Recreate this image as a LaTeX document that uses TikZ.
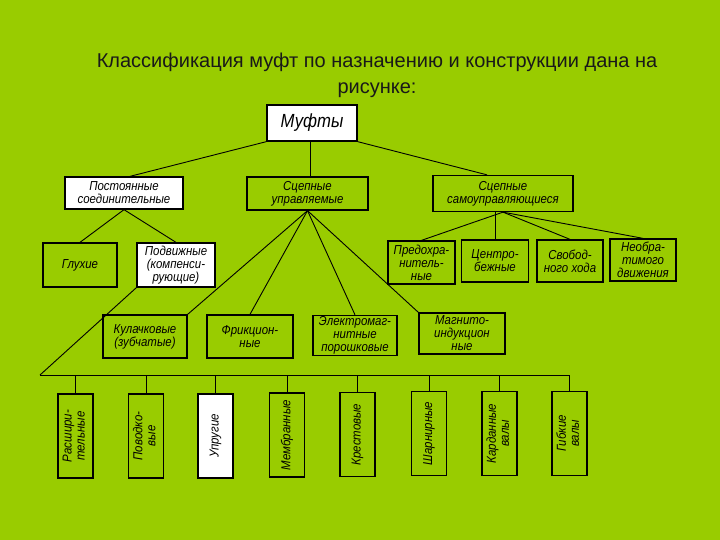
\documentclass[tikz,border=0pt]{standalone}
\usepackage{fontspec}
\setmainfont{Liberation Sans}
\newfontfamily\boxfont[FakeStretch=0.88]{Liberation Sans}
\usetikzlibrary{calc}
\definecolor{bg}{RGB}{153,204,0}
\begin{document}
\begin{tikzpicture}[x=1pt,y=-1pt,
  box/.style={draw=black, line width=1.3pt, inner sep=1pt, align=center,
    font=\boxfont\itshape\fontsize{13}{13}\selectfont},
  wbox/.style={box, fill=white},
  vbox/.style={box, minimum width=35pt, minimum height=84pt},
  conn/.style={draw=black, line width=0.9pt},
  titlestyle/.style={align=center, font=\fontsize{20}{26}\selectfont, text=black!90}]
\fill[bg] (0,0) rectangle (720,540);
\useasboundingbox (0,0) rectangle (720,540);

\node[titlestyle] (title) at (377,75) {Классификация муфт по назначению и конструкции дана на\\рисунке:};

% level 1
\node[wbox, minimum width=90pt, minimum height=36pt, font=\boxfont\itshape\fontsize{19}{20}\selectfont] (muf) at (312,123) {Муфты};
% level 2
\node[wbox, minimum width=118pt, minimum height=32pt] (post) at (124,193) {Постоянные\\соединительные};
\node[box, minimum width=121pt, minimum height=33pt] (supr) at (307.5,193.5) {Сцепные\\управляемые};
\node[box, minimum width=140pt, minimum height=36pt] (ssam) at (503,193.5) {Сцепные\\самоуправляющиеся};
% level 3
\node[box, minimum width=74pt, minimum height=44pt] (gluh) at (80,265) {Глухие};
\node[wbox, minimum width=78pt, minimum height=44pt] (podv) at (176,265) {Подвижные\\(компенси-\\рующие)};
\node[box, minimum width=67pt, minimum height=43pt] (pred) at (421.5,262.5) {Предохра-\\нитель-\\ные};
\node[box, minimum width=67pt, minimum height=42pt] (centr) at (495,261) {Центро-\\бежные};
\node[box, minimum width=66pt, minimum height=42pt] (svob) at (570,261) {Свобод-\\ного хода};
\node[box, minimum width=66pt, minimum height=42pt] (neob) at (643,260) {Необра-\\тимого\\движения};
% level 4
\node[box, minimum width=84pt, minimum height=43pt] (kul) at (145,336.5) {Кулачковые\\(зубчатые)};
\node[box, minimum width=86pt, minimum height=43pt] (fric) at (250,336.5) {Фрикцион-\\ные};
\node[box, minimum width=84pt, minimum height=40pt] (elek) at (355,335.5) {Электромаг-\\нитные\\порошковые};
\node[box, minimum width=86pt, minimum height=41pt] (magn) at (462,333.5) {Магнито-\\индукцион\\ные};
% bottom row
\node[vbox] (b1) at (75.5,436) {\rotatebox{90}{\begin{tabular}{@{}c@{}}Расшири-\\тельные\end{tabular}}};
\node[vbox] (b2) at (146,436) {\rotatebox{90}{\begin{tabular}{@{}c@{}}Поводко-\\вые\end{tabular}}};
\node[vbox, fill=white] (b3) at (215.5,436) {\rotatebox{90}{Упругие}};
\node[vbox] (b4) at (287,435) {\rotatebox{90}{Мембранные}};
\node[vbox] (b5) at (357.5,434.5) {\rotatebox{90}{Крестовые}};
\node[vbox] (b6) at (429,433.5) {\rotatebox{90}{Шарнирные}};
\node[vbox] (b7) at (499.5,433.5) {\rotatebox{90}{\begin{tabular}{@{}c@{}}Карданные\\валы\end{tabular}}};
\node[vbox] (b8) at (569.5,433.5) {\rotatebox{90}{\begin{tabular}{@{}c@{}}Гибкие\\валы\end{tabular}}};

% connectors
\draw[conn] (muf.south west) -- ($(post.north)+(6,0)$);
\draw[conn] (muf.south -| supr.north) ++(2.5,0) coordinate (mv) -- (mv |- supr.north);
\draw[conn] (muf.south east) -- ($(ssam.north)+(-16,0)$);

\draw[conn] (post.south) -- (gluh.north);
\draw[conn] (post.south) -- (podv.north);

\draw[conn] (supr.south) -- (kul.north east);
\draw[conn] (supr.south) -- (fric.north);
\draw[conn] (supr.south) -- (elek.north);
\draw[conn] (supr.south) -- (magn.north west);

\draw[conn] (ssam.south) -- (pred.north);
\draw[conn] (centr.north |- ssam.south) -- (centr.north);
\draw[conn] (ssam.south) -- (svob.north);
\draw[conn] (ssam.south) -- (neob.north);

\coordinate (busL) at (40,375);
\draw[conn] (podv.south west) -- (busL);
\draw[conn] (busL) -- (busL -| b8.north);
\foreach \b in {b1,b2,b3,b4,b5,b6,b7,b8}
  \draw[conn] (\b.north |- busL) -- (\b.north);
\end{tikzpicture}
\end{document}
